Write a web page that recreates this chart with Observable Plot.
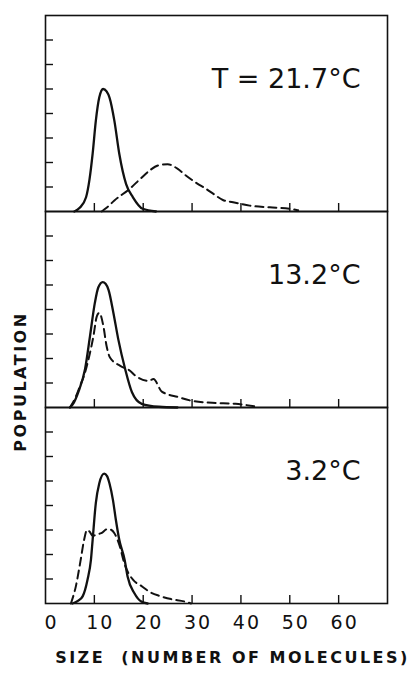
<!DOCTYPE html>
<html><head><meta charset="utf-8">
<script src="https://cdn.jsdelivr.net/npm/d3@7"></script>
<script src="https://cdn.jsdelivr.net/npm/@observablehq/plot@0.6"></script>
<style>
html,body{margin:0;padding:0;background:#fff;overflow:hidden}
svg{display:block}
svg text{white-space:pre}
g[aria-label="x-axis tick label"] text{letter-spacing:2px}
</style></head><body><div id="chart"></div>
<script>
// Panels (temperatures), top to bottom
const panels = ["21.7", "13.2", "3.2"];
const panelLabels = ["T = 21.7°C", "13.2°C", "3.2°C"];
const xTicks = [0, 10, 20, 30, 40, 50, 60];
const yTicks = [1, 2, 3, 4, 5, 6, 7];
const xTitle = "SIZE  (NUMBER OF MOLECULES)";
const yTitle = "POPULATION";

// [size, population]
const solid217 = [[5.9,0],[7.0,0.15],[8.3,0.58],[9.0,1.3],[9.65,2.36],[10.3,3.7],[11.0,4.65],[11.8,5.0],[12.5,4.9],[13.1,4.65],[14.1,3.7],[15.1,2.36],[16.5,1.12],[17.9,0.58],[19.9,0.11],[22.6,0]];
const dashed217 = [[11.5,0],[12.5,0.15],[14.1,0.45],[17.2,0.92],[19.5,1.35],[21.3,1.67],[23.0,1.88],[25.0,1.93],[27.0,1.75],[28.8,1.46],[31.0,1.15],[32.9,0.92],[34.5,0.7],[36.3,0.47],[38.4,0.38],[41.8,0.24],[45.9,0.17],[50.0,0.11],[51.7,0.05]];
const solid132 = [[5.0,0],[5.8,0.2],[6.7,0.62],[8.1,1.57],[9.1,2.9],[10.1,4.27],[10.8,4.9],[11.7,5.12],[12.3,5.05],[12.9,4.8],[13.9,3.86],[14.9,2.78],[16.3,1.57],[17.7,0.62],[19.7,0.15],[23.2,0.03],[27.0,0]];
const dashed132 = [[5.0,0],[6.0,0.35],[7.1,0.9],[8.1,1.43],[8.8,1.97],[9.8,2.9],[10.5,3.72],[11.0,3.86],[11.85,3.32],[12.5,2.51],[13.2,2.04],[15.3,1.7],[17.3,1.5],[18.4,1.3],[21.1,1.09],[22.1,1.16],[23.8,0.65],[27.3,0.42],[30.0,0.27],[34.1,0.19],[38.9,0.15],[42.7,0.05]];
const solid32 = [[5.5,0],[6.6,0.1],[7.6,0.29],[8.6,0.97],[9.3,1.78],[9.65,2.6],[10.3,4.1],[11.0,4.9],[12.0,5.3],[12.6,5.2],[13.1,4.9],[13.8,4.23],[14.4,3.42],[15.1,2.6],[16.2,1.78],[16.8,1.1],[18.2,0.42],[19.6,0.08],[20.9,0]];
const dashed32 = [[5.2,0],[6.2,0.69],[7.2,1.78],[7.9,2.6],[8.5,3.0],[9.0,2.94],[9.65,2.76],[10.5,2.82],[11.4,2.87],[12.7,3.04],[13.5,3.0],[14.1,2.87],[15.1,2.4],[16.2,1.6],[17.9,0.97],[19.6,0.72],[21.6,0.44],[23.5,0.3],[25.7,0.18],[28.5,0.08],[29.8,0]];

const series = [
  {panel: "21.7", style: "solid", pts: solid217},
  {panel: "21.7", style: "dashed", pts: dashed217},
  {panel: "13.2", style: "solid", pts: solid132},
  {panel: "13.2", style: "dashed", pts: dashed132},
  {panel: "3.2", style: "solid", pts: solid32},
  {panel: "3.2", style: "dashed", pts: dashed32}
];
const rows = series.flatMap(s => s.pts.map(([x, y]) => ({panel: s.panel, style: s.style, x, y})));
const labels = panels.map((p, i) => ({panel: p, label: panelLabels[i]}));
const ink = "#111";

const chart = Plot.plot({
  width: 417, height: 674,
  marginLeft: 45, marginRight: 30, marginTop: 14, marginBottom: 70,
  x: {domain: [0, 70]},
  y: {domain: [0, 8]},
  fy: {domain: panels, padding: 0, axis: null},
  marks: [
    Plot.frame({stroke: ink, strokeWidth: 1.6}),
    Plot.axisY({anchor: "left", ticks: yTicks, tickSize: 8, dx: 8, fill: "none", label: null, stroke: ink, strokeWidth: 1.4}),
    Plot.axisX({anchor: "bottom", ticks: xTicks.filter(d => d > 0), tickSize: 8, dy: -8, fill: "none", label: null, facetAnchor: null, stroke: ink, strokeWidth: 1.4}),
    Plot.axisX({anchor: "bottom", ticks: xTicks, tickSize: 0, tickPadding: 12, dx: 6, label: null, fontSize: 19, fontFamily: "DejaVu Sans", fill: ink}),
    Plot.line(rows.filter(d => d.style === "dashed"), {x: "x", y: "y", fy: "panel", curve: "monotone-x", stroke: ink, strokeWidth: 2, strokeDasharray: "8,5"}),
    Plot.line(rows.filter(d => d.style === "solid"), {x: "x", y: "y", fy: "panel", curve: "monotone-x", stroke: ink, strokeWidth: 2.3}),
    Plot.text(labels, {fy: "panel", text: "label", frameAnchor: "top-right", textAnchor: "end", lineAnchor: "middle", dx: -27, dy: 64, fontSize: 27, fontFamily: "DejaVu Sans", fill: ink}),
    Plot.text([yTitle], {text: d => d, facet: "super", frameAnchor: "left", textAnchor: "middle", lineAnchor: "middle", rotate: -90, dx: -25, dy: 72, fontSize: 16, fontWeight: "bold", fontFamily: "DejaVu Sans", fill: ink}),
    Plot.text([xTitle], {text: d => d, facet: "super", frameAnchor: "bottom", textAnchor: "middle", lineAnchor: "middle", dx: 16, dy: 54, fontSize: 16, fontWeight: "bold", fontFamily: "DejaVu Sans", fill: ink})
  ]
});
document.getElementById("chart").appendChild(chart);
d3.select(chart).selectAll("text")
  .filter(function() { return this.textContent === xTitle || this.textContent === yTitle; })
  .style("letter-spacing", "2.5px");
</script></body></html>
